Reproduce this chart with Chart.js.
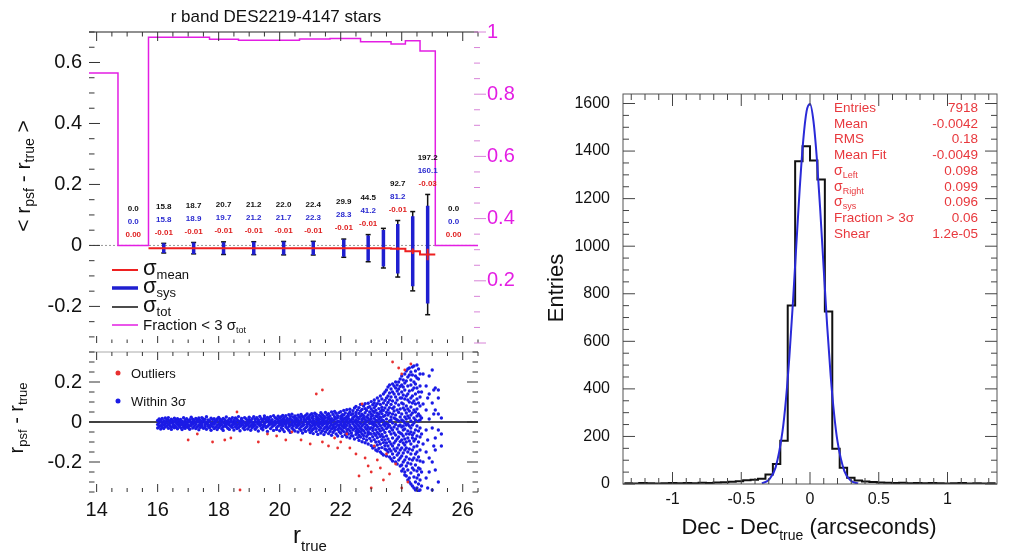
<!DOCTYPE html>
<html>
<head>
<meta charset="utf-8">
<script src="https://cdn.jsdelivr.net/npm/chart.js@4.4.1/dist/chart.umd.min.js"></script>
<style>
  body { margin: 0; background: #fff; width: 1015px; height: 554px; overflow: hidden; position: relative; }
  canvas { position: absolute; }
</style>
</head>
<body>
<canvas id="topPanel" width="520" height="350" style="left:0;top:0"></canvas>
<canvas id="botPanel" width="520" height="209" style="left:0;top:345px"></canvas>
<canvas id="histPanel" width="495" height="554" style="left:520px;top:0"></canvas>
<script>
// Dados - painel superior (por bin de r_true)
const binEdges   = [13.7, 14.7, 15.7, 16.7, 17.7, 18.65, 19.65, 20.65, 21.65, 22.65, 23.15, 23.65, 24.12, 24.6, 25.1, 26.6];
const binCenters = [14.2, 15.2, 16.2, 17.18, 18.16, 19.15, 20.13, 21.1, 22.1, 22.9, 23.4, 23.87, 24.36, 24.85, 25.7];
const fracWithin3 = [0.808, 0, 0.975, 0.975, 0.966, 0.961, 0.961, 0.967, 0.970, 0.954, 0.954, 0.944, 0.959, 0.911, 0];
const meanDiff  = [null, 0, -0.009, -0.009, -0.009, -0.009, -0.009, -0.009, -0.009, -0.009, -0.009, -0.011, -0.019, -0.03, 0];
const sigmaTot  = [null, 0, 15.8, 18.7, 20.7, 21.2, 22.0, 22.4, 29.9, 44.5, 65, 92.7, 130, 197.2, 0];   // mmag
const sigmaSys  = [null, 0, 15.8, 18.9, 19.7, 21.2, 21.7, 22.3, 28.3, 41.2, 60, 81.2, 115, 160.1, 0];   // mmag
const sigmaMean = [null, 0, 1, 1, 1, 1, 1, 1, 1.5, 2, 3, 5, 9, 19, 0];                                   // mmag
const showNumbers = [false, true, true, true, true, true, true, true, true, true, false, true, false, true, true];
const topYTicks  = [-0.2, 0, 0.2, 0.4, 0.6];
const fracTicks  = [0.2, 0.4, 0.6, 0.8, 1];
const rTicks     = [14, 16, 18, 20, 22, 24, 26];

// Dados - painel inferior: [r_true, [r_psf - r_true em mmag]]
const withinCols = [
  [16.00,[-12,8,-30]], [16.05,[3,-22,-5,15]], [16.10,[-18,10,-35]], [16.15,[-2,-27,18,-11]],
  [16.20,[6,-15,-33]], [16.25,[-8,20,-24,1]], [16.30,[-20,12,-4]], [16.35,[9,-31,-13,22]],
  [16.40,[-6,-19,4]], [16.45,[14,-26,-1,-37]], [16.50,[-10,7,-22]], [16.55,[2,-16,19,-29]],
  [16.60,[-25,-3,11]], [16.65,[17,-12,-34,5]], [16.70,[-7,-21,9]], [16.75,[-15,13,-28,0]],
  [16.80,[4,-9,-38]], [16.85,[-19,21,-4,-26]], [16.90,[8,-14,-32]], [16.95,[-1,16,-23,-10]],
  [17.00,[-28,6,-13]], [17.05,[11,-20,1,-36]], [17.10,[-5,-17,24]], [17.15,[14,-30,-9,3]],
  [17.20,[-22,8,-2]], [17.25,[-12,18,-33,-6]], [17.30,[5,-25,12]], [17.35,[-16,0,-39,20]],
  [17.40,[9,-11,-27]], [17.45,[-3,22,-19,-8]], [17.50,[-31,4,15]], [17.55,[13,-14,-24,-1]],
  [17.60,[-9,26,-36]], [17.65,[2,-21,10,-12]], [17.70,[-18,7,-29]], [17.75,[19,-5,-41,-15]],
  [17.80,[-8,12,-23]], [17.85,[0,-33,17,-11]], [17.90,[-26,6,-3]], [17.95,[15,-17,-38,8]],
  [18.00,[-10,23,-28]], [18.05,[4,-20,-6,14]], [18.10,[-34,-13,9]], [18.15,[18,-2,-25,-42]],
  [18.20,[-7,11,-18]], [18.25,[-23,25,1,-12]], [18.30,[7,-31,-9]], [18.35,[-15,16,-37,-4]],
  [18.40,[12,-22,3]], [18.45,[-1,-27,21,-14]], [18.50,[-40,8,-11]], [18.55,[20,-6,-24,2]],
  [18.60,[-17,13,-33]], [18.65,[5,-10,27,-29]], [18.70,[-21,0,-44]], [18.75,[10,-16,18,-7]],
  [18.80,[-30,4,-13]], [18.85,[22,-24,-3,-38]], [18.90,[-9,15,-19]], [18.95,[1,-35,9,-14]],
  [19.00,[-25,24,-6,12]], [19.05,[6,-18,-41]], [19.10,[-12,17,-29,0]], [19.15,[27,-8,-22]],
  [19.20,[-36,3,14,-15]], [19.25,[-2,-26,21]], [19.30,[11,-11,-45,6]], [19.35,[-19,28,-5]],
  [19.40,[2,-32,16,-13]], [19.45,[-24,8,-39]], [19.50,[19,-7,-17,30]], [19.55,[-28,0,11]],
  [19.60,[7,-21,-47,23]], [19.65,[-14,15,-3]], [19.70,[-33,4,26,-10]], [19.75,[12,-24,-8]],
  [19.80,[-1,31,-42,-18]], [19.85,[22,-12,5]], [19.90,[-37,-4,17,-27]], [19.95,[9,-20,29]],
  [20.00,[-15,3,-44,20,-6]], [20.05,[26,-29,-11,8]], [20.10,[-2,14,-37,-19,33]], [20.15,[-48,10,-8,22]],
  [20.20,[5,-25,31,-14,-3]], [20.25,[-32,18,-1,12]], [20.30,[-10,36,-41,4,-22]], [20.35,[15,-16,-52,27]],
  [20.40,[-6,9,-30,39,-13]], [20.45,[24,-38,1,-20]], [20.50,[-45,13,-9,30,0]], [20.55,[7,-27,19,-15]],
  [20.60,[-18,34,-4,-50,11]], [20.65,[2,-33,25,-11]], [20.70,[-24,16,-42,6,38]], [20.75,[-8,28,-19,-55]],
  [20.80,[12,-36,3,21,-13]], [20.85,[-29,8,-47,33]], [20.90,[19,-2,-23,40,-12]], [20.95,[-40,14,-7,26]],
  [21.00,[4,-31,35,-17,-53,10]], [21.05,[-21,22,-3,-44,41]], [21.10,[30,-12,6,-36,-58,17]],
  [21.15,[-6,-27,44,1,-15]], [21.20,[13,-48,-9,27,-33,38]], [21.25,[-19,9,-62,20,-2]],
  [21.30,[33,-24,3,-40,14,-11]], [21.35,[-55,25,-7,-30,46]], [21.40,[8,-17,37,-45,-1,18]],
  [21.45,[-34,12,-63,29,-9]], [21.50,[21,-4,-26,48,-50,2]], [21.55,[-13,35,-39,7,-20]],
  [21.60,[41,-58,15,-6,-31,24]], [21.65,[-2,-22,30,-47,10]], [21.70,[17,-35,50,-12,-66,4]],
  [21.75,[-27,6,-52,38,-16]], [21.80,[26,-9,-41,13,53,-29]], [21.85,[-60,19,-3,-23,44]],
  [21.90,[5,-37,32,-14,-70,22]], [21.95,[-18,47,-49,1,-30]],
  [22.00,[28,-11,-56,16,52,-33,0]], [22.05,[-42,9,37,-21,-72,23]], [22.10,[-5,58,-30,13,-48,35,-15]],
  [22.15,[19,-64,2,-26,45,-9]], [22.20,[-38,27,-75,8,-17,61,-52]], [22.25,[40,-4,-35,18,-60,30]],
  [22.30,[-23,64,-14,-80,7,49,-44]], [22.35,[12,-55,36,-29,1,-68]], [22.40,[-70,22,-9,57,-40,15,42]],
  [22.45,[3,-33,70,-18,-85,28]], [22.50,[-47,11,48,-62,-5,35,-26,78]], [22.55,[24,-78,-13,60,-36,5,-54]],
  [22.60,[-21,43,-92,17,-45,72,0,-66]], [22.65,[55,-8,-31,29,-75,88,-50]],
  [22.70,[-60,14,-99,39,-20,63,-38,6]], [22.75,[32,-44,80,-11,-83,21,-68]],
  [22.80,[-3,67,-55,12,-104,46,-27,91]], [22.85,[-36,25,-72,58,-15,4,-90]],
  [22.90,[73,-49,18,-110,35,-25,94,-61]], [22.95,[-7,-82,50,-35,9,77,-56]],
  [23.00,[40,-95,15,-118,65,-28,102,-5,-60,27]], [23.05,[-43,86,-12,-74,33,-130,55,2,-31]],
  [23.10,[18,-57,110,-88,-3,48,-125,72,-20,95]], [23.15,[-66,30,-140,8,81,-39,59,-100,-14]],
  [23.20,[92,-23,-79,44,-115,120,5,-52,26,-145]], [23.25,[-35,67,-8,-98,105,-60,15,-132,38]],
  [23.30,[52,-150,24,-45,88,-110,130,-18,-72,3]], [23.35,[-88,12,74,-128,42,-30,115,-62,-158,60]],
  [23.40,[7,-103,140,-40,95,-75,-12,58,-165,28]], [23.45,[-52,33,-135,108,-20,150,-90,70,-5,-118]],
  [23.50,[120,-70,15,-170,48,-33,160,-105,85,-8,-140]], [23.55,[-25,98,-150,60,-85,175,-12,35,-120,130]],
  [23.60,[45,-175,110,-48,5,-98,145,-135,72,-18,185]], [23.65,[-110,25,-60,165,-185,88,-30,125,-145,10]],
  [23.70,[68,-5,-160,190,-80,40,-120,105,-40,150,-195]], [23.75,[-55,140,-105,20,-178,75,180,-25,-135,55]],
  [23.80,[15,-200,95,-65,170,-145,35,-12,125,-95,200]], [23.85,[-130,60,-35,155,-210,110,-85,10,185,-165]],
  [23.90,[85,-155,200,-50,5,-115,140,-190,48,-20,-75,165]],
  [23.95,[-15,120,-220,65,-98,178,-140,25,-55,215,-180]],
  [24.00,[40,-170,150,-60,230,-215,95,-25,-130,185,10,-90,120,-245]],
  [24.05,[-105,70,-200,210,-40,135,-155,5,-235,90,175,-70,-20]],
  [24.10,[160,-85,25,-250,115,-140,240,-35,-190,60,-115,195,-5,-265]],
  [24.15,[-60,205,-175,45,-220,130,-15,255,-100,80,-270,-130,15]],
  [24.20,[110,-240,30,-80,180,-150,265,-10,-205,140,-290,65,-45,225]],
  [24.25,[-135,55,-280,235,-20,155,-95,100,-185,270,-60,20,-300]],
  [24.30,[75,-210,250,-110,5,-310,185,-50,120,-160,35,-255,210,-30]],
  [24.35,[-80,275,-140,-230,95,-15,160,-320,45,-190,235,-65,130]],
  [24.40,[20,-275,200,-125,280,-55,-330,105,-180,60,-240,170,-5,-95]],
  [24.45,[-160,140,-300,50,255,-85,-215,10,190,-340,90,-40,230]],
  [24.50,[65,-245,170,-120,-330,285,-20,115,-190,30,-280,220,-70,-150]],
  [24.55,[-100,215,-310,40,150,-230,-345,95,-45,265,-175,5,-265]],
  [24.60,[30,-195,125,-290,-75,240,-340,180,-140,10,-235,80,-30]],
  [24.65,[150,-60,-250,20,-320]], [24.70,[-110,90,-200,240]], [24.80,[180,-40,-280,60,-150]],
  [24.85,[-90,120,-330]], [24.90,[230,-180,15,-250,140]], [25.00,[-30,-200,260,95,-340]],
  [25.05,[160,-120,40]], [25.10,[60,-80,170,-240,-140]], [25.20,[-40,120,-300,40,160]], [25.30,[-60,20,-120]]
];
const outlierX = [17.0, 17.3, 17.8, 18.2, 18.4, 18.6, 18.7, 19.3, 19.6, 19.9, 20.2, 20.4, 20.7, 21.0, 21.2,
                  21.4, 21.4, 21.6, 21.8, 21.9, 22.0, 22.2, 22.3, 22.5, 22.6, 22.7, 22.8, 22.9, 23.0, 23.0,
                  23.1, 23.2, 23.3, 23.4, 23.5, 23.6, 23.7, 23.8, 23.9, 24.0, 24.0, 24.1, 24.2, 24.3];
const outlierY = [-0.09, -0.06, -0.10, -0.09, -0.08, 0.05, -0.34, -0.10, -0.06, -0.07, -0.09, -0.05, -0.09, -0.11, 0.14,
                  0.16, -0.10, -0.12, -0.08, -0.13, -0.10, -0.06, -0.13, -0.16, -0.27, 0.09, -0.18, -0.22, -0.25, -0.33,
                  -0.12, -0.19, -0.23, -0.29, -0.16, -0.26, 0.30, -0.21, 0.27, -0.33, 0.24, 0.26, -0.30, 0.29];
const botYTicks = [-0.2, 0, 0.2];

// Dados - histograma Dec - Dec_true
const histMin = -1.35, histBinWidth = 0.054;
const histCounts = [3, 2, 4, 3, 2, 3, 4, 3, 4, 3, 5, 4, 6, 7, 9, 12, 16, 18, 22, 40,
                    84, 182, 751, 1357, 1420, 1360, 1280, 725, 148, 68, 26, 15, 10, 8, 6, 5, 4, 5, 3, 4,
                    3, 4, 3, 2, 3, 4, 2, 3, 2, 3];
const fitX = [-0.35, -0.3, -0.25, -0.2, -0.175, -0.15, -0.125, -0.1, -0.075, -0.05, -0.025, 0,
              0.025, 0.05, 0.075, 0.1, 0.125, 0.15, 0.175, 0.2, 0.25, 0.3, 0.35];
const fitY = [3, 17, 70, 221, 355, 535, 756, 1000, 1240, 1440, 1567, 1598,
              1527, 1367, 1147, 901, 664, 458, 296, 179, 54, 13, 2];
const histXTicks = [-1, -0.5, 0, 0.5, 1];
const histYTicks = [0, 200, 400, 600, 800, 1000, 1200, 1400, 1600];
const statNames  = ['Entries', 'Mean', 'RMS', 'Mean Fit', 'σ_Left', 'σ_Right', 'σ_sys', 'Fraction > 3σ', 'Shear'];
const statValues = ['7918', '-0.0042', '0.18', '-0.0049', '0.098', '0.099', '0.096', '0.06', '1.2e-05'];

const FONT = '"Liberation Sans", Arial, sans-serif';
const R_MIN = 13.75, R_MAX = 26.5;
const MAGENTA = '#e31ee3';

// texto com subscritos: parts = [texto, tamanho, deslocamento]
function drawRich(ctx, parts, x, y, opt) {
  ctx.save();
  ctx.translate(x, y);
  if (opt.rotate) ctx.rotate(opt.rotate);
  let w = 0;
  parts.forEach(p => { ctx.font = `${p[1]}px ${FONT}`; w += ctx.measureText(p[0]).width; });
  let cx = opt.align === 'center' ? -w / 2 : (opt.align === 'right' ? -w : 0);
  ctx.fillStyle = opt.color || '#111';
  ctx.textBaseline = 'alphabetic';
  parts.forEach(p => {
    ctx.font = `${p[1]}px ${FONT}`;
    ctx.fillText(p[0], cx, p[2] || 0);
    cx += ctx.measureText(p[0]).width;
  });
  ctx.restore();
}

// marcas de escala para dentro, estilo ROOT
function tickMarks(ctx, scale, horiz, pos, dir, k0, k1, step, majorEvery, len, color) {
  ctx.save();
  ctx.strokeStyle = color;
  ctx.lineWidth = 1;
  ctx.beginPath();
  for (let k = k0; k <= k1; k++) {
    const p = scale.getPixelForValue(k * step);
    const l = (k % majorEvery === 0) ? len : len / 2;
    if (horiz) { ctx.moveTo(p, pos); ctx.lineTo(p, pos + dir * l); }
    else { ctx.moveTo(pos, p); ctx.lineTo(pos + dir * l, p); }
  }
  ctx.stroke();
  ctx.restore();
}

function fixedTicks(list) {
  return s => { s.ticks = list.map(v => ({ value: v })); };
}

// largura fixa do eixo, sem folga extra para os rótulos
function fixWidth(w) {
  return s => { s.width = w; s.paddingTop = 0; s.paddingBottom = 0; };
}

function fmt(v) { return v === 0 ? '0' : String(v); }

// ---------- painel superior ----------
function errorBarPoints(sig) {
  const pts = [];
  binCenters.forEach((c, i) => {
    if (!sig[i]) return;
    pts.push({ x: c, y: meanDiff[i] - sig[i] / 1000 }, { x: c, y: meanDiff[i] + sig[i] / 1000 }, { x: c, y: null });
  });
  return pts;
}

const fracPoints = fracWithin3.map((f, i) => ({ x: binEdges[i], y: f }));
fracPoints.push({ x: binEdges[binEdges.length - 1], y: fracWithin3[fracWithin3.length - 1] });

const meanPoints = [];
let lastFilled = -1;
meanDiff.forEach((m, i) => {
  if (sigmaTot[i]) { meanPoints.push({ x: binEdges[i], y: m }); lastFilled = i; }
});
meanPoints.push({ x: binEdges[lastFilled + 1], y: meanDiff[lastFilled] });

const topDecor = {
  id: 'topDecor',
  afterDraw(chart) {
    const ctx = chart.ctx, a = chart.chartArea;
    const xs = chart.scales.x, ys = chart.scales.y, y2 = chart.scales.y2;
    // eixo superior
    ctx.save();
    ctx.strokeStyle = '#222'; ctx.lineWidth = 1.2;
    ctx.beginPath(); ctx.moveTo(a.left, a.top); ctx.lineTo(a.right, a.top); ctx.stroke();
    ctx.restore();
    tickMarks(ctx, xs, true, a.top, 1, 28, 53, 0.5, 4, 9, '#333');
    tickMarks(ctx, xs, true, a.bottom, -1, 28, 53, 0.5, 4, 7, '#333');
    tickMarks(ctx, ys, false, a.left, 1, -6, 14, 0.05, 4, 11, '#333');
    tickMarks(ctx, y2, false, a.right - 4, 1, 0, 20, 0.05, 4, 12, '#d884d8');

    drawRich(ctx, [['r band DES2219-4147 stars', 17]], 276, 22, { align: 'center' });
    drawRich(ctx, [['< r', 21], ['psf', 14, 4], [' - r', 21], ['true', 14, 4], [' >', 21]],
             30, 176, { align: 'center', rotate: -Math.PI / 2 });

    // legenda
    const rows = [
      { c: '#ee2020', w: 2, y: 270, parts: [['σ', 22], ['mean', 13, 4]] },
      { c: '#1f1fd0', w: 3.5, y: 288, parts: [['σ', 22], ['sys', 13, 4]] },
      { c: '#111', w: 1.5, y: 307, parts: [['σ', 22], ['tot', 13, 4]] },
      { c: MAGENTA, w: 1.5, y: 325, parts: [['Fraction < 3 σ', 15], ['tot', 9, 3]] }
    ];
    rows.forEach(r => {
      ctx.save();
      ctx.strokeStyle = r.c; ctx.lineWidth = r.w;
      ctx.beginPath(); ctx.moveTo(112, r.y); ctx.lineTo(138, r.y); ctx.stroke();
      ctx.restore();
      drawRich(ctx, r.parts, 143, r.y + 5, { align: 'left' });
    });

    // valores por bin
    ctx.save();
    ctx.font = `bold 8px ${FONT}`;
    ctx.textAlign = 'center';
    ctx.textBaseline = 'middle';
    binCenters.forEach((c, i) => {
      if (!showNumbers[i]) return;
      const m = meanDiff[i] || 0;
      const px = xs.getPixelForValue(c);
      const py = ys.getPixelForValue(m + sigmaTot[i] / 1000) - 11;
      ctx.fillStyle = '#e02020'; ctx.fillText(m.toFixed(2), px, py);
      ctx.fillStyle = '#2a2ad0'; ctx.fillText(sigmaSys[i].toFixed(1), px, py - 13);
      ctx.fillStyle = '#111'; ctx.fillText(sigmaTot[i].toFixed(1), px, py - 26);
    });
    ctx.restore();
  }
};

new Chart(document.getElementById('topPanel'), {
  type: 'line',
  data: {
    datasets: [
      { data: errorBarPoints(sigmaMean), borderColor: '#ee2020', borderWidth: 2, pointRadius: 0 },
      { data: meanPoints, borderColor: '#ee2020', borderWidth: 2, stepped: true, pointRadius: 0 },
      { data: errorBarPoints(sigmaSys), borderColor: '#1f1fd0', borderWidth: 3.5, pointRadius: 0 },
      { data: errorBarPoints(sigmaTot), borderColor: '#111', borderWidth: 1.5, pointStyle: 'line',
        pointRadius: 2.5, pointBorderColor: '#111', pointBorderWidth: 1.5 },
      { data: fracPoints, yAxisID: 'yFrac', borderColor: MAGENTA, borderWidth: 1.5, stepped: true, pointRadius: 0 },
      { data: [{ x: R_MIN, y: 0 }, { x: R_MAX, y: 0 }], borderColor: '#999', borderWidth: 1,
        borderDash: [2, 2], pointRadius: 0 }
    ]
  },
  options: {
    responsive: false,
    animation: false,
    layout: { padding: { top: 32, bottom: 7, left: 0, right: 0 } },
    plugins: { legend: { display: false }, tooltip: { enabled: false } },
    scales: {
      x: { type: 'linear', min: R_MIN, max: R_MAX, display: false },
      y: {
        min: -0.32, max: 0.7, position: 'left',
        grid: { display: false, drawTicks: false }, border: { display: false },
        ticks: { font: { family: FONT, size: 20 }, color: '#111', padding: 7, callback: fmt },
        afterBuildTicks: fixedTicks(topYTicks),
        afterFit: fixWidth(89)
      },
      y2: {
        min: 0, max: 1, position: 'right',
        grid: { display: false, drawTicks: false }, border: { display: false },
        ticks: { font: { family: FONT, size: 20 }, color: MAGENTA, padding: 9, callback: fmt },
        afterBuildTicks: fixedTicks(fracTicks),
        afterFit: fixWidth(42)
      },
      yFrac: { min: -0.32 / 0.7, max: 1, display: false }
    }
  },
  plugins: [topDecor]
});

// ---------- painel inferior ----------
const withinPoints = [];
withinCols.forEach(col => col[1].forEach(v => withinPoints.push({ x: col[0], y: v / 1000 })));
const outlierPoints = outlierX.map((x, i) => ({ x, y: outlierY[i] }));

const botDecor = {
  id: 'botDecor',
  afterDraw(chart) {
    const ctx = chart.ctx, a = chart.chartArea;
    const xs = chart.scales.x, ys = chart.scales.y;
    ctx.save();
    ctx.strokeStyle = '#aaa'; ctx.lineWidth = 1;
    ctx.beginPath(); ctx.moveTo(a.left, a.top); ctx.lineTo(a.right, a.top); ctx.stroke();
    ctx.restore();
    tickMarks(ctx, xs, true, a.top, 1, 28, 53, 0.5, 4, 8, '#333');
    tickMarks(ctx, xs, true, a.bottom, -1, 28, 53, 0.5, 4, 8, '#333');
    tickMarks(ctx, ys, false, a.left, 1, -7, 7, 0.05, 4, 11, '#333');
    tickMarks(ctx, ys, false, a.right, -1, -7, 7, 0.05, 4, 11, '#333');

    drawRich(ctx, [['r', 20], ['psf', 13, 4], [' - r', 20], ['true', 13, 4]],
             23, 73, { align: 'center', rotate: -Math.PI / 2 });
    drawRich(ctx, [['r', 24], ['true', 15, 8]], 310, 198, { align: 'center' });

    const leg = [['#e83030', 28, 'Outliers'], ['#1b1be6', 56, 'Within 3σ']];
    leg.forEach(l => {
      ctx.save();
      ctx.fillStyle = l[0];
      ctx.beginPath(); ctx.arc(118, l[1], 2.5, 0, Math.PI * 2); ctx.fill();
      ctx.restore();
      drawRich(ctx, [[l[2], 13]], 131, l[1] + 5, { align: 'left' });
    });
  }
};

new Chart(document.getElementById('botPanel'), {
  type: 'scatter',
  data: {
    datasets: [
      { data: outlierPoints, backgroundColor: '#e83030', pointRadius: 1.4, borderWidth: 0 },
      { data: withinPoints, backgroundColor: '#1b1be6', pointRadius: 1.7, borderWidth: 0 },
      { type: 'line', data: [{ x: R_MIN, y: 0 }, { x: R_MAX, y: 0 }], borderColor: '#111',
        borderWidth: 1.5, pointRadius: 0 }
    ]
  },
  options: {
    responsive: false,
    animation: false,
    layout: { padding: { top: 7, bottom: 0, left: 0, right: 42 } },
    plugins: { legend: { display: false }, tooltip: { enabled: false } },
    scales: {
      x: {
        type: 'linear', min: R_MIN, max: R_MAX,
        grid: { display: false, drawTicks: false }, border: { display: false },
        ticks: { font: { family: FONT, size: 20 }, color: '#111', padding: 6, maxRotation: 0, callback: fmt },
        afterBuildTicks: fixedTicks(rTicks),
        afterFit: s => { s.height = 62; }
      },
      y: {
        min: -0.35, max: 0.35,
        grid: { display: false, drawTicks: false }, border: { display: false },
        ticks: { font: { family: FONT, size: 20 }, color: '#111', padding: 7, callback: fmt },
        afterBuildTicks: fixedTicks(botYTicks),
        afterFit: fixWidth(89)
      }
    }
  },
  plugins: [botDecor]
});

// ---------- histograma ----------
const histPoints = histCounts.map((c, i) => ({ x: histMin + i * histBinWidth, y: c }));
histPoints.push({ x: histMin + histCounts.length * histBinWidth, y: histCounts[histCounts.length - 1] });
const fitPoints = fitX.map((x, i) => ({ x, y: fitY[i] }));

const histDecor = {
  id: 'histDecor',
  afterDraw(chart) {
    const ctx = chart.ctx, a = chart.chartArea;
    const xs = chart.scales.x, ys = chart.scales.y;
    ctx.save();
    ctx.strokeStyle = '#555'; ctx.lineWidth = 1;
    ctx.strokeRect(a.left, a.top, a.right - a.left, a.bottom - a.top);
    ctx.restore();
    tickMarks(ctx, xs, true, a.bottom, -1, -13, 13, 0.1, 5, 12, '#444');
    tickMarks(ctx, xs, true, a.top, 1, -13, 13, 0.1, 5, 12, '#444');
    tickMarks(ctx, ys, false, a.left, 1, 0, 32, 50, 4, 12, '#444');
    tickMarks(ctx, ys, false, a.right, -1, 0, 32, 50, 4, 12, '#444');

    drawRich(ctx, [['Entries', 22]], 43, 288, { align: 'center', rotate: -Math.PI / 2 });
    drawRich(ctx, [['Dec - Dec', 22], ['true', 14, 6], [' (arcseconds)', 22]], 289, 534, { align: 'center' });

    const red = '#e8383d';
    statNames.forEach((name, i) => {
      const y = 112 + i * 15.7;
      const parts = name.includes('_')
        ? [[name.split('_')[0], 14], [name.split('_')[1], 9, 3]]
        : [[name, 13.5]];
      drawRich(ctx, parts, 314, y, { align: 'left', color: red });
      drawRich(ctx, [[statValues[i], 13.5]], 458, y, { align: 'right', color: red });
    });
  }
};

new Chart(document.getElementById('histPanel'), {
  type: 'line',
  data: {
    datasets: [
      { data: fitPoints, borderColor: '#2a2ad8', borderWidth: 2, pointRadius: 0,
        cubicInterpolationMode: 'monotone' },
      { data: histPoints, borderColor: '#111', borderWidth: 2, stepped: true, pointRadius: 0 }
    ]
  },
  options: {
    responsive: false,
    animation: false,
    layout: { padding: { top: 94, bottom: 0, left: 0, right: 18 } },
    plugins: { legend: { display: false }, tooltip: { enabled: false } },
    scales: {
      x: {
        type: 'linear', min: -1.36, max: 1.36,
        grid: { display: false, drawTicks: false }, border: { display: false },
        ticks: { font: { family: FONT, size: 16 }, color: '#111', padding: 6, maxRotation: 0, callback: fmt },
        afterBuildTicks: fixedTicks(histXTicks),
        afterFit: s => { s.height = 70; }
      },
      y: {
        min: 0, max: 1640,
        grid: { display: false, drawTicks: false }, border: { display: false },
        ticks: { font: { family: FONT, size: 16 }, color: '#111', padding: 13, callback: fmt },
        afterBuildTicks: fixedTicks(histYTicks),
        afterFit: fixWidth(103)
      }
    }
  },
  plugins: [histDecor]
});
</script>
</body>
</html>
